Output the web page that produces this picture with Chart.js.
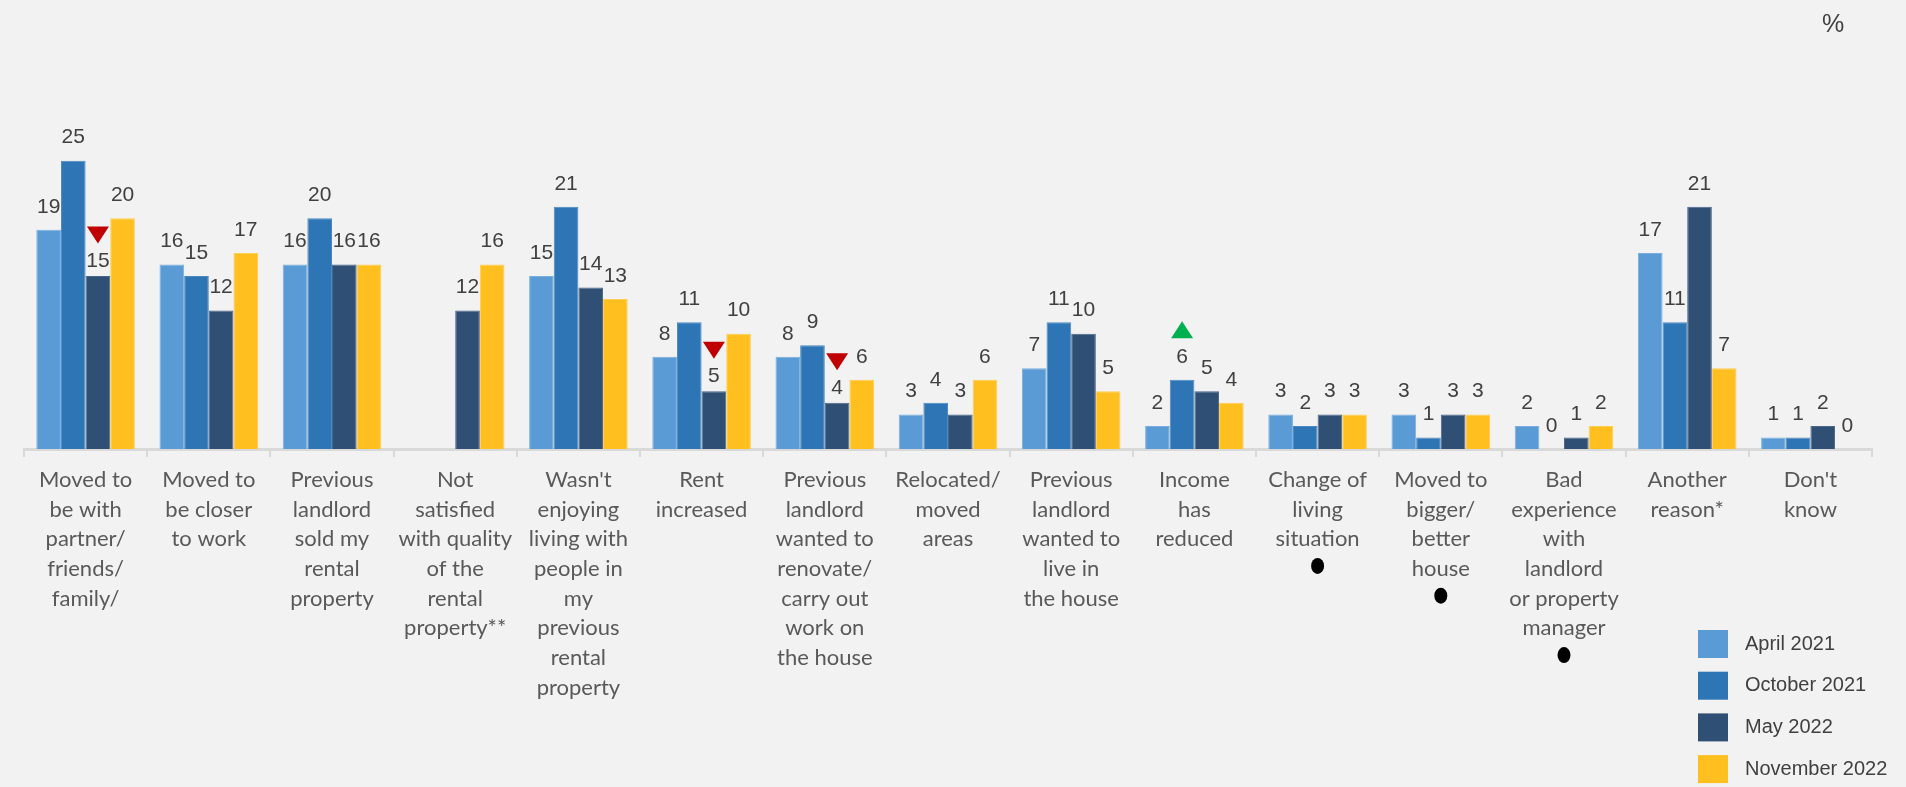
<!DOCTYPE html>
<html lang="en">
<head>
<meta charset="UTF-8">
<title>Reasons for moving out of the previous rental</title>
<style>
  html, body { margin: 0; padding: 0; background: #f2f2f2; }
  #wrap { position: relative; width: 1906px; height: 787px; }
</style>
</head>
<body>

<div id="wrap">
  <canvas id="myChart" width="1906" height="787" role="img" aria-label="Reasons for moving, by survey wave"></canvas>
</div>

<script src="https://cdn.jsdelivr.net/npm/chart.js@4.4.0/dist/chart.umd.min.js"></script>

<script>
    // categories (already split into lines for the axis)
    var reasons = [
        ['Moved to', 'be with', 'partner/', 'friends/', 'family/'],
        ['Moved to', 'be closer', 'to work'],
        ['Previous', 'landlord', 'sold my', 'rental', 'property'],
        ['Not', 'satisfied', 'with quality', 'of the', 'rental', 'property**'],
        ['Wasn\'t', 'enjoying', 'living with', 'people in', 'my', 'previous', 'rental', 'property'],
        ['Rent', 'increased'],
        ['Previous', 'landlord', 'wanted to', 'renovate/', 'carry out', 'work on', 'the house'],
        ['Relocated/', 'moved', 'areas'],
        ['Previous', 'landlord', 'wanted to', 'live in', 'the house'],
        ['Income', 'has', 'reduced'],
        ['Change of', 'living', 'situation'],
        ['Moved to', 'bigger/', 'better', 'house'],
        ['Bad', 'experience', 'with', 'landlord', 'or property', 'manager'],
        ['Another', 'reason*'],
        ['Don\'t', 'know']
    ];

    var waves = ['April 2021', 'October 2021', 'May 2022', 'November 2022'];

    var april2021 = [19, 16, 16, null, 15, 8, 8, 3, 7, 2, 3, 3, 2, 17, 1];
    var october2021 = [25, 15, 20, null, 21, 11, 9, 4, 11, 6, 2, 1, 0, 11, 1];
    var may2022 = [15, 12, 16, 12, 14, 5, 4, 3, 10, 5, 3, 3, 1, 21, 2];
    var november2022 = [20, 17, 16, 16, 13, 10, 6, 6, 5, 4, 3, 3, 2, 7, 0];

    // significant changes: [category index, wave index, direction]
    var changes = [
        [0, 2, 'down'],
        [5, 2, 'down'],
        [6, 2, 'down'],
        [9, 1, 'up']
    ];

    // categories that carry a footnote dot under the label
    var dotted = [10, 11, 12];

    var colors = ['#5b9bd5', '#2e75b6', '#2f5074', '#ffbf1f'];
    var edges = ['#78aedd', '#4a88c2', '#4a6688', '#ffcd52'];

    var tickSize = 22, tickLine = 1.35, tickPad = 8, tickLen = 8;

    function findChange(i, d) {
        for (var k = 0; k < changes.length; k++) {
            if (changes[k][0] === i && changes[k][1] === d) return changes[k][2];
        }
        return null;
    }

    // numbers above bars + change arrows
    var valueLabels = {
        id: 'valueLabels',
        afterDatasetsDraw: function (chart) {
            var ctx = chart.ctx;
            ctx.save();
            ctx.font = '21px "Liberation Sans", Arial, sans-serif';
            ctx.fillStyle = '#404040';
            ctx.textAlign = 'center';
            ctx.textBaseline = 'middle';
            chart.data.datasets.forEach(function (ds, d) {
                var meta = chart.getDatasetMeta(d);
                meta.data.forEach(function (bar, i) {
                    var v = ds.data[i];
                    if (v === null || v === undefined) return;
                    var dir = findChange(i, d);
                    var off = dir === 'down' ? 15 : 23;
                    ctx.fillStyle = '#404040';
                    ctx.fillText(String(v), bar.x, bar.y - off);
                    if (dir) {
                        var cy = bar.y - (dir === 'down' ? 41 : 50);
                        ctx.beginPath();
                        if (dir === 'down') {
                            ctx.moveTo(bar.x - 11, cy - 8.5);
                            ctx.lineTo(bar.x + 11, cy - 8.5);
                            ctx.lineTo(bar.x, cy + 8.5);
                            ctx.fillStyle = '#c00000';
                        } else {
                            ctx.moveTo(bar.x - 11, cy + 8.5);
                            ctx.lineTo(bar.x + 11, cy + 8.5);
                            ctx.lineTo(bar.x, cy - 8.5);
                            ctx.fillStyle = '#00b050';
                        }
                        ctx.closePath();
                        ctx.fill();
                    }
                });
            });
            ctx.restore();
        }
    };

    // "%" unit, footnote dots and the legend block
    var extras = {
        id: 'extras',
        afterDraw: function (chart) {
            var ctx = chart.ctx;
            var x = chart.scales.x;
            var lh = tickSize * tickLine;
            var firstLine = x.top + tickLen + tickPad + lh / 2;
            ctx.save();

            ctx.fillStyle = '#404040';
            ctx.font = '25px "Liberation Sans", Arial, sans-serif';
            ctx.textAlign = 'center';
            ctx.textBaseline = 'middle';
            ctx.fillText('%', 1833, 25);

            ctx.fillStyle = '#000000';
            dotted.forEach(function (i) {
                var px = x.getPixelForValue(i);
                var py = firstLine + reasons[i].length * lh - 3;
                ctx.beginPath();
                ctx.ellipse(px, py, 6.5, 8, 0, 0, Math.PI * 2);
                ctx.fill();
            });

            ctx.font = '20px "Liberation Sans", Arial, sans-serif';
            ctx.textAlign = 'left';
            chart.data.datasets.forEach(function (ds, d) {
                var top = 630 + d * 41.7;
                ctx.fillStyle = ds.backgroundColor;
                ctx.fillRect(1698, top, 30, 28);
                ctx.fillStyle = '#404040';
                ctx.fillText(ds.label, 1745, top + 14);
            });
            ctx.restore();
        }
    };

    var seriesData = [april2021, october2021, may2022, november2022];

    var dataSource = {
        labels: reasons,
        datasets: waves.map(function (w, d) {
            return {
                label: w,
                data: seriesData[d],
                backgroundColor: colors[d],
                borderColor: edges[d],
                borderWidth: 1,
                categoryPercentage: 0.8,
                barPercentage: 1.0
            };
        })
    };

    var ctx = document.getElementById('myChart').getContext('2d');
    var myChart = new Chart(ctx, {
        type: 'bar',
        data: dataSource,
        plugins: [valueLabels, extras],
        options: {
            responsive: false,
            animation: false,
            layout: { padding: { left: 24, right: 34, top: 103, bottom: 0 } },
            plugins: {
                legend: { display: false },
                tooltip: { enabled: false }
            },
            scales: {
                x: {
                    grid: {
                        offset: true,
                        drawOnChartArea: false,
                        drawTicks: true,
                        tickLength: tickLen,
                        color: '#d9d9d9',
                        lineWidth: 2
                    },
                    border: { display: true, color: '#d9d9d9', width: 3 },
                    ticks: {
                        autoSkip: false,
                        maxRotation: 0,
                        minRotation: 0,
                        padding: tickPad,
                        color: '#595959',
                        font: { family: 'Lato', size: tickSize, lineHeight: tickLine }
                    },
                    afterFit: function (scale) { scale.height = 338; }
                },
                y: { display: false, min: 0, max: 30 }
            }
        }
    });
</script>

</body>
</html>
